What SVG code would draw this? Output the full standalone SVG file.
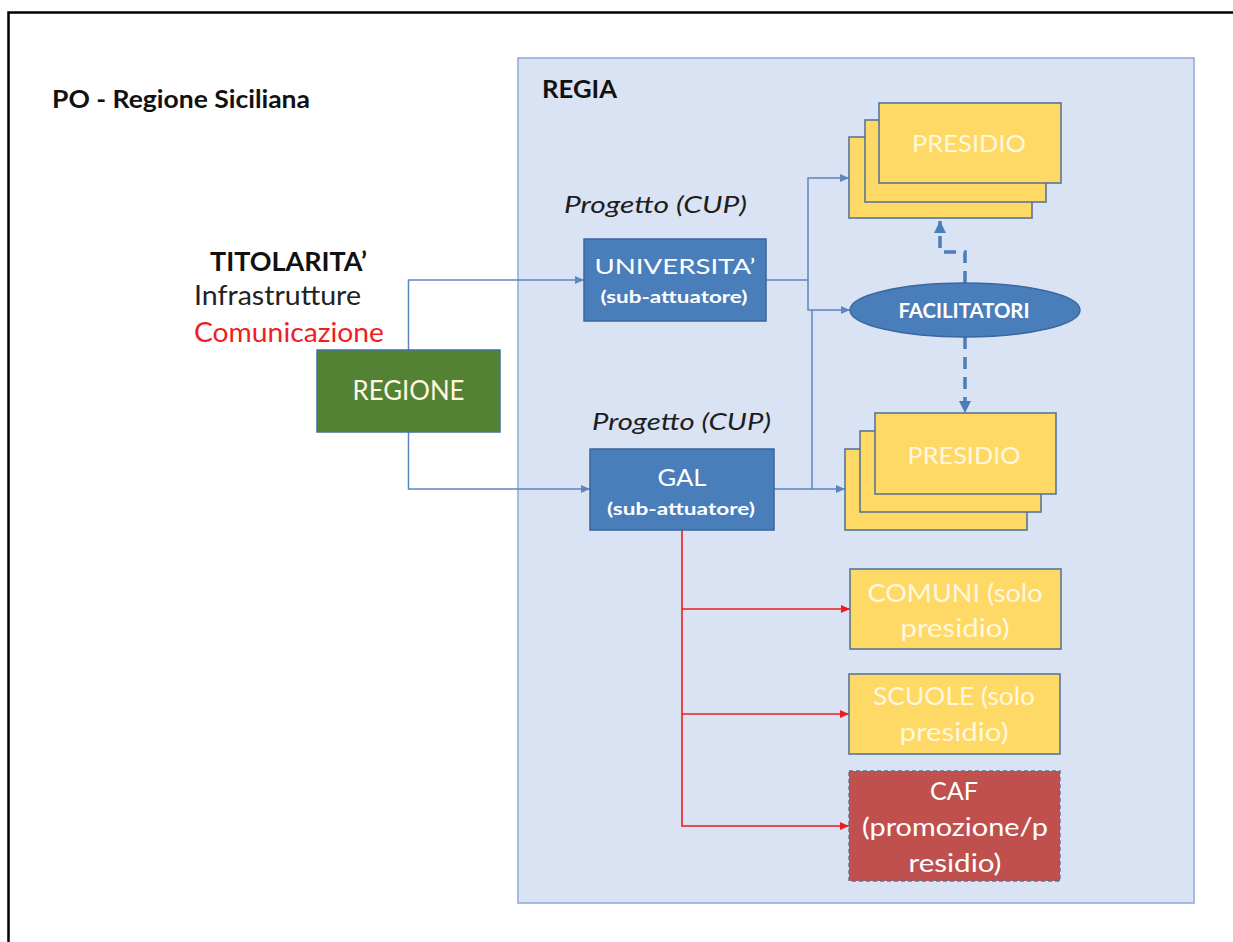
<svg xmlns="http://www.w3.org/2000/svg" width="1233" height="942" viewBox="0 0 1233 942">
  <style>
    text { font-family: Lato, "Open Sans", "Liberation Sans", sans-serif; }
    .b { font-weight: bold; }
    .it { font-style: italic; fill: #1e1e1e; }
    .dark { fill: #111111; }
    .white { fill: #ffffff; }
    .pale { fill: #fff7df; }
    .blue-box { fill: #4a7ebb; stroke: #3a679e; stroke-width: 1.5; }
    .yellow-box { fill: #ffd966; stroke: #4f6f96; stroke-width: 1.5; }
    .conn { fill: none; stroke: #5b86c0; stroke-width: 1.5; }
    .conn-red { fill: none; stroke: #ee1c1c; stroke-width: 1.6; }
    .conn-dash { fill: none; stroke: #4a7ebb; stroke-width: 3.5; stroke-dasharray: 12 8; }
  </style>
  <defs>
    <marker id="arr-blue" markerUnits="userSpaceOnUse" markerWidth="10" markerHeight="10" refX="9" refY="5" orient="auto">
      <path d="M0,1 L9,5 L0,9 Z" fill="#5b86c0"/>
    </marker>
    <marker id="arr-red" markerUnits="userSpaceOnUse" markerWidth="10" markerHeight="10" refX="9" refY="5" orient="auto">
      <path d="M0,1 L9,5 L0,9 Z" fill="#ee1c1c"/>
    </marker>
    <marker id="arr-dash" markerUnits="userSpaceOnUse" markerWidth="14" markerHeight="14" refX="12" refY="7" orient="auto">
      <path d="M0,1 L12,7 L0,13 Z" fill="#4a7ebb"/>
    </marker>
  </defs>

  <!-- page background and frame -->
  <rect x="0" y="0" width="1233" height="942" fill="#ffffff"/>
  <path d="M8.5,942 V12.5 H1233" fill="none" stroke="#000000" stroke-width="2.5"/>

  <text class="b dark" x="52" y="108" font-size="24" textLength="258" lengthAdjust="spacingAndGlyphs">PO - Regione Siciliana</text>

  <!-- REGIA container -->
  <g id="regia">
    <rect x="518" y="58" width="676" height="845" fill="#dae3f3" stroke="#8ea9d6" stroke-width="1.5"/>
    <text class="b dark" x="542" y="98" font-size="24" textLength="75" lengthAdjust="spacingAndGlyphs">REGIA</text>
  </g>

  <!-- side labels -->
  <g id="titolarita">
    <text class="b dark" x="210" y="271" font-size="26" textLength="157" lengthAdjust="spacingAndGlyphs">TITOLARITA’</text>
    <text x="194" y="305" font-size="26" fill="#222222" textLength="167" lengthAdjust="spacingAndGlyphs">Infrastrutture</text>
    <text x="194" y="342" font-size="26" fill="#f01e24" textLength="190" lengthAdjust="spacingAndGlyphs">Comunicazione</text>
  </g>

  <!-- connectors -->
  <g id="connectors">
    <path class="conn" d="M408.5,350 V280 H584" marker-end="url(#arr-blue)"/>
    <path class="conn" d="M408.5,432 V489 H590" marker-end="url(#arr-blue)"/>
    <path class="conn" d="M766,280 H808 V178 H849" marker-end="url(#arr-blue)"/>
    <path class="conn" d="M808,280 V310 H850" marker-end="url(#arr-blue)"/>
    <path class="conn" d="M774,489 H845" marker-end="url(#arr-blue)"/>
    <path class="conn" d="M812,489 V310"/>
    <path class="conn-dash" d="M965,283 V252 H940 V221" marker-end="url(#arr-dash)"/>
    <path class="conn-dash" d="M965,337 V413" marker-end="url(#arr-dash)"/>
    <path class="conn-red" d="M682,530 V826 H849" marker-end="url(#arr-red)"/>
    <path class="conn-red" d="M682,609 H850" marker-end="url(#arr-red)"/>
    <path class="conn-red" d="M682,714 H849" marker-end="url(#arr-red)"/>
  </g>

  <g id="regione">
    <rect x="317" y="350" width="183" height="82" fill="#548235" stroke="#41719c" stroke-width="1.5"/>
    <text class="pale" x="408.5" y="400" font-size="26" text-anchor="middle" textLength="112" lengthAdjust="spacingAndGlyphs">REGIONE</text>
  </g>

  <g id="universita">
    <text class="it" x="564" y="213" font-size="23" textLength="183" lengthAdjust="spacingAndGlyphs">Progetto (CUP)</text>
    <rect class="blue-box" x="584" y="239" width="182" height="82"/>
    <text class="white" x="675" y="274" font-size="22" text-anchor="middle" textLength="161" lengthAdjust="spacingAndGlyphs">UNIVERSITA’</text>
    <text class="b white" x="674" y="303" font-size="17" text-anchor="middle" textLength="147" lengthAdjust="spacingAndGlyphs">(sub-attuatore)</text>
  </g>

  <g id="gal">
    <text class="it" x="592" y="430" font-size="23" textLength="179" lengthAdjust="spacingAndGlyphs">Progetto (CUP)</text>
    <rect class="blue-box" x="590" y="449" width="184" height="81"/>
    <text class="white" x="682" y="486" font-size="24" text-anchor="middle" textLength="49" lengthAdjust="spacingAndGlyphs">GAL</text>
    <text class="b white" x="681" y="515" font-size="17" text-anchor="middle" textLength="148" lengthAdjust="spacingAndGlyphs">(sub-attuatore)</text>
  </g>

  <g id="presidio-top">
    <rect class="yellow-box" x="849" y="137" width="183" height="81"/>
    <rect class="yellow-box" x="865" y="120" width="181" height="82"/>
    <rect class="yellow-box" x="879" y="103" width="182" height="80"/>
    <text class="pale" x="969" y="152" font-size="23" text-anchor="middle" textLength="114" lengthAdjust="spacingAndGlyphs">PRESIDIO</text>
  </g>

  <g id="facilitatori">
    <ellipse cx="965" cy="310" rx="115" ry="27" fill="#4a7ebb" stroke="#3a679e" stroke-width="1.5"/>
    <text class="b white" x="964" y="318" font-size="20" text-anchor="middle" textLength="131" lengthAdjust="spacingAndGlyphs">FACILITATORI</text>
  </g>

  <g id="presidio-bottom">
    <rect class="yellow-box" x="845" y="449" width="182" height="81"/>
    <rect class="yellow-box" x="860" y="431" width="181" height="81"/>
    <rect class="yellow-box" x="875" y="413" width="181" height="81"/>
    <text class="pale" x="964" y="464" font-size="23" text-anchor="middle" textLength="113" lengthAdjust="spacingAndGlyphs">PRESIDIO</text>
  </g>

  <g id="comuni">
    <rect class="yellow-box" x="850" y="569" width="211" height="80"/>
    <text class="pale" x="955" y="602" font-size="25" text-anchor="middle" textLength="175" lengthAdjust="spacingAndGlyphs">COMUNI (solo</text>
    <text class="pale" x="955" y="637" font-size="25" text-anchor="middle" textLength="109" lengthAdjust="spacingAndGlyphs">presidio)</text>
  </g>

  <g id="scuole">
    <rect class="yellow-box" x="849" y="674" width="211" height="80"/>
    <text class="pale" x="954" y="705" font-size="25" text-anchor="middle" textLength="162" lengthAdjust="spacingAndGlyphs">SCUOLE (solo</text>
    <text class="pale" x="954" y="741" font-size="25" text-anchor="middle" textLength="109" lengthAdjust="spacingAndGlyphs">presidio)</text>
  </g>

  <g id="caf">
    <rect x="849" y="771" width="211" height="110" fill="#c0504d" stroke="#5f6f8f" stroke-width="1.3" stroke-dasharray="4 3"/>
    <text class="white" x="954" y="800" font-size="25" text-anchor="middle" textLength="48" lengthAdjust="spacingAndGlyphs">CAF</text>
    <text class="white" x="955" y="836" font-size="25" text-anchor="middle" textLength="186" lengthAdjust="spacingAndGlyphs">(promozione/p</text>
    <text class="white" x="955" y="872" font-size="25" text-anchor="middle" textLength="93" lengthAdjust="spacingAndGlyphs">residio)</text>
  </g>
</svg>
